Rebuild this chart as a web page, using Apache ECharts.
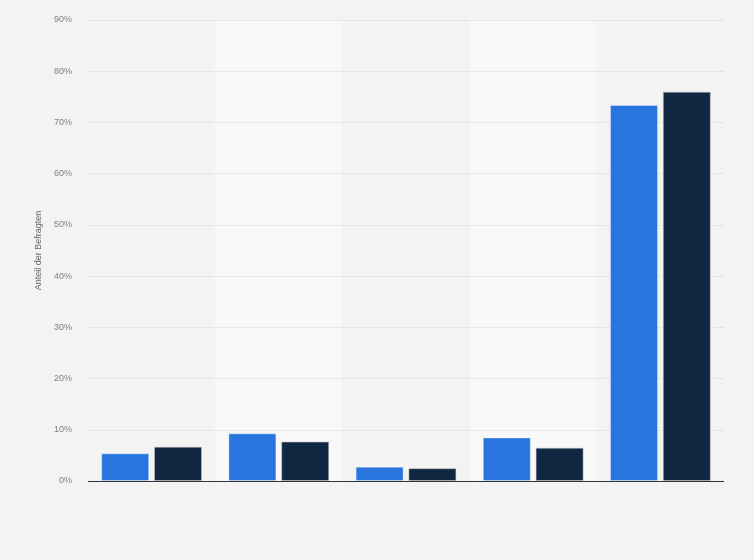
<!DOCTYPE html>
<html>
<head>
<meta charset="utf-8">
<script src="https://cdn.jsdelivr.net/npm/echarts@6/dist/echarts.min.js"></script>
<style>
html,body{margin:0;padding:0;background:#f3f3f3;}
#chart{width:754px;height:560px;}
</style>
</head>
<body>
<div id="chart"></div>
<script>
const categories = ['Kategorie 1', 'Kategorie 2', 'Kategorie 3', 'Kategorie 4', 'Kategorie 5'];
const seriesNames = ['Serie 1', 'Serie 2'];
const valuesA = [5.4, 9.3, 2.8, 8.5, 73.4];
const valuesB = [6.7, 7.7, 2.5, 6.5, 76.0];
const yTicks = { min: 0, max: 90, interval: 10 };

const chart = echarts.init(document.getElementById('chart'));
chart.setOption({
  backgroundColor: '#f3f3f3',
  animation: false,
  grid: { left: 88, right: 30, top: 20, bottom: 79 },
  xAxis: {
    type: 'category',
    data: categories,
    z: 0,
    axisLabel: { show: false },
    axisTick: { show: false },
    axisLine: { show: false },
    splitArea: { show: true, interval: 0, areaStyle: { color: ['rgba(0,0,0,0)', '#f8f8f8'] } }
  },
  yAxis: {
    type: 'value',
    z: 1,
    min: yTicks.min, max: yTicks.max, interval: yTicks.interval,
    name: 'Anteil der Befragten',
    nameLocation: 'middle',
    nameGap: 44,
    nameTextStyle: { color: '#666', fontSize: 9, fontFamily: 'Arial, Liberation Sans, sans-serif' },
    axisLabel: { formatter: '{value}%', color: '#808080', fontSize: 9, margin: 16, fontFamily: 'Arial, Liberation Sans, sans-serif' },
    axisLine: { show: false },
    axisTick: { show: false },
    splitLine: { lineStyle: { color: '#d6d6d6', type: [1, 1], width: 1 } }
  },
  series: [
    {
      name: seriesNames[0], type: 'bar', data: valuesA, barWidth: 48, barGap: '10%',
      itemStyle: { color: '#2876dd', borderColor: 'rgba(255,255,255,0.35)', borderWidth: 1 },
      markLine: {
        silent: true, symbol: 'none', label: { show: false },
        lineStyle: { color: '#333', type: 'solid', width: 1 },
        data: [{ yAxis: 0 }]
      }
    },
    {
      name: seriesNames[1], type: 'bar', data: valuesB, barWidth: 48, barGap: '10%',
      itemStyle: { color: '#0f2741', borderColor: 'rgba(200,200,200,0.5)', borderWidth: 1 }
    }
  ]
});
</script>
</body>
</html>
